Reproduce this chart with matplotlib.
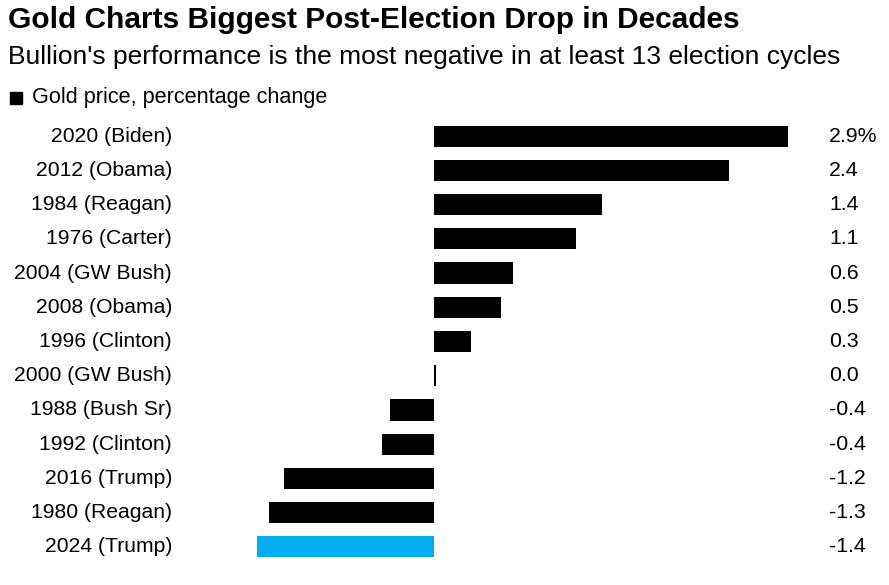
import matplotlib.pyplot as plt

# Data (top to bottom)
labels = ["2020 (Biden)", "2012 (Obama)", "1984 (Reagan)", "1976 (Carter)",
          "2004 (GW Bush)", "2008 (Obama)", "1996 (Clinton)", "2000 (GW Bush)",
          "1988 (Bush Sr)", "1992 (Clinton)", "2016 (Trump)", "1980 (Reagan)",
          "2024 (Trump)"]
values = [2.90, 2.42, 1.38, 1.16, 0.65, 0.55, 0.30, 0.02,
          -0.36, -0.43, -1.23, -1.35, -1.45]
value_text = ["2.9%", "2.4", "1.4", "1.1", "0.6", "0.5", "0.3", "0.0",
              "-0.4", "-0.4", "-1.2", "-1.3", "-1.4"]
highlight = "2024 (Trump)"

plt.rcParams['font.family'] = ['Liberation Sans', 'DejaVu Sans']

W, H = 889, 585
fig = plt.figure(figsize=(W / 100, H / 100), dpi=100)

# axes in pixel space: bars span x 257..788, rows y 119..564
x0, x1 = 257, 788
y_top, y_bot = 119, 564
ax = fig.add_axes([x0 / W, 1 - y_bot / H, (x1 - x0) / W, (y_bot - y_top) / H])

n = len(labels)
ypos = list(range(n))
colors = ['#00adef' if l == highlight else 'black' for l in labels]
ax.barh(ypos, values, height=0.62, color=colors)
ax.set_xlim(min(values), max(values))
ax.set_ylim(n - 0.5, -0.5)
ax.axis('off')

trans = ax.get_yaxis_transform()
for y, lab, vt in zip(ypos, labels, value_text):
    ax.text((172 - x0) / (x1 - x0), y, lab, transform=trans, ha='right',
            va='center', fontsize=15.2)
    ax.text((829 - x0) / (x1 - x0), y, vt, transform=trans, ha='left',
            va='center', fontsize=15.3)

fig.text(8 / W, 1 - 20 / H, "Gold Charts Biggest Post-Election Drop in Decades",
         fontsize=21.5, fontweight='bold', ha='left', va='center')
fig.text(8 / W, 1 - 57 / H,
         "Bullion's performance is the most negative in at least 13 election cycles",
         fontsize=19, ha='left', va='center')
fig.patches.append(plt.Rectangle((10 / W, 1 - 104 / H), 12 / W, 12 / H,
                                 transform=fig.transFigure, color='black'))
fig.text(32 / W, 1 - 97 / H, "Gold price, percentage change",
         fontsize=15.6, ha='left', va='center')

fig.savefig('out.png', dpi=100)
